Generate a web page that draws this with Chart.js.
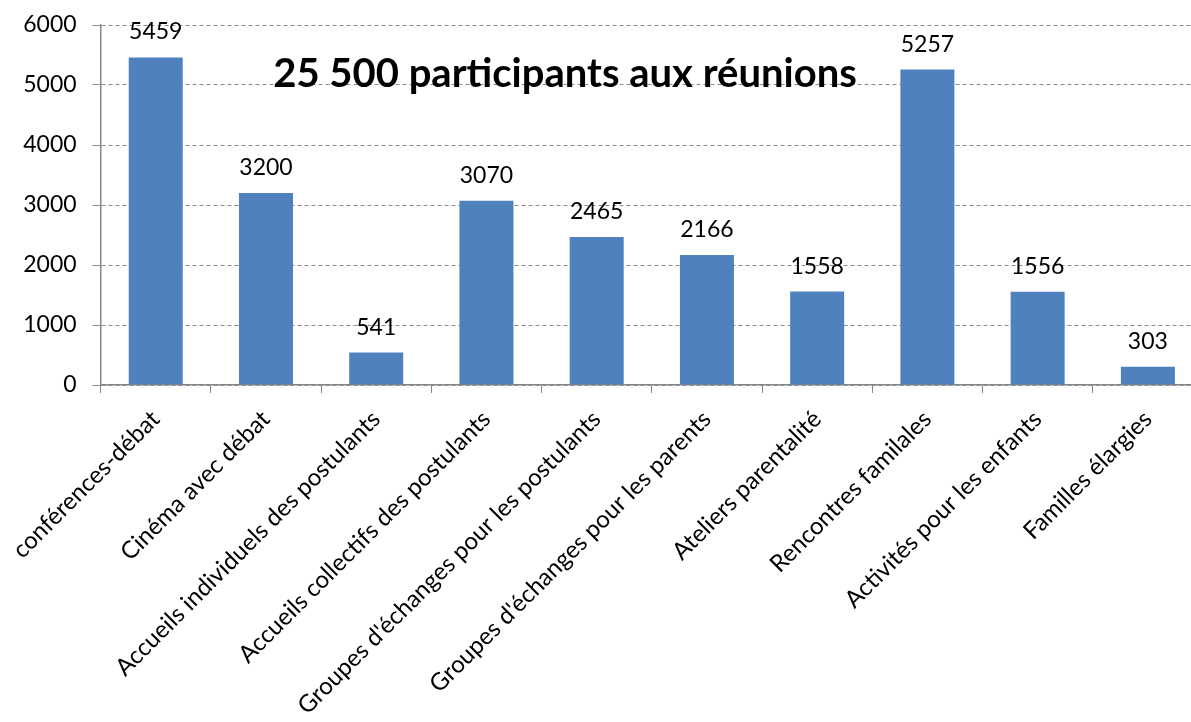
<!DOCTYPE html>
<html lang="fr">
<head>
    <meta charset="UTF-8">
    <title>25 500 participants aux réunions</title>
    <script src="https://cdn.jsdelivr.net/npm/chart.js"></script>
    <style>
        html, body { margin: 0; padding: 0; background: #fff; overflow: hidden; }
        #wrap { width: 1191px; height: 722px; overflow: hidden; }
    </style>
</head>
<body>
    <div id="wrap">
        <canvas id="reunionsChart" width="1203" height="722"></canvas>
    </div>
    <script>
        // Data
        const categories = [
            'conférences-débat',
            'Cinéma avec débat',
            'Accueils individuels des postulants',
            'Accueils collectifs des postulants',
            "Groupes d'échanges pour les postulants",
            "Groupes d'échanges pour les parents",
            'Ateliers parentalité',
            'Rencontres familales',
            'Activités pour les enfants',
            'Familles élargies'
        ];
        const participants = [5459, 3200, 541, 3070, 2465, 2166, 1558, 5257, 1556, 303];
        const yMin = 0;
        const yMax = 6000;
        const yStep = 1000;
        const titleText = '25 500 participants aux réunions';

        const fontFamily = 'Lato, "Open Sans", sans-serif';
        const gray = '#868686';

        // Value labels above each bar + the title inside the plot
        const annotations = {
            id: 'annotations',
            afterDatasetsDraw(chart) {
                const ctx = chart.ctx;
                const meta = chart.getDatasetMeta(0);
                ctx.save();
                ctx.fillStyle = '#000';
                ctx.font = '23px ' + fontFamily;
                ctx.textAlign = 'center';
                ctx.textBaseline = 'alphabetic';
                meta.data.forEach((bar, i) => {
                    ctx.fillText(String(participants[i]), bar.x, bar.y - 18);
                });
                ctx.font = 'bold 40px ' + fontFamily;
                ctx.fillText(titleText, 565, 87);
                ctx.restore();
            }
        };

        const ctx = document.getElementById('reunionsChart').getContext('2d');
        const reunionsChart = new Chart(ctx, {
            type: 'bar',
            data: {
                labels: categories,
                datasets: [{
                    data: participants,
                    backgroundColor: '#4F81BD',
                    borderWidth: 0,
                    barPercentage: 1,
                    categoryPercentage: 0.49
                }]
            },
            options: {
                responsive: false,
                animation: false,
                devicePixelRatio: 1,
                layout: { padding: { top: 25, right: 0, left: 0, bottom: 0 } },
                plugins: {
                    legend: { display: false },
                    tooltip: { enabled: false }
                },
                scales: {
                    x: {
                        afterFit(scale) {
                            scale.height = 337;
                            scale.paddingTop = 0;
                            scale.paddingBottom = 0;
                        },
                        border: { color: gray, width: 1.5 },
                        grid: {
                            offset: true,
                            drawOnChartArea: false,
                            drawTicks: true,
                            tickLength: 8,
                            color: gray
                        },
                        ticks: {
                            autoSkip: false,
                            maxRotation: 45,
                            minRotation: 45,
                            padding: 12,
                            color: '#000',
                            font: { family: fontFamily, size: 24 }
                        }
                    },
                    y: {
                        min: yMin,
                        max: yMax,
                        afterFit(scale) {
                            scale.width = 100;
                            scale.paddingTop = 0;
                            scale.paddingBottom = 0;
                        },
                        border: { color: gray, width: 1.5 },
                        grid: {
                            color: '#8c8c8c',
                            drawTicks: true,
                            tickLength: 8
                        },
                        ticks: {
                            stepSize: yStep,
                            padding: 16,
                            color: '#000',
                            font: { family: fontFamily, size: 23 },
                            callback: (value) => String(value)
                        }
                    }
                }
            },
            plugins: [annotations]
        });
        // dashed gridlines
        reunionsChart.options.scales.y.border.dash = [4, 3];
        reunionsChart.update();
    </script>
</body>
</html>
